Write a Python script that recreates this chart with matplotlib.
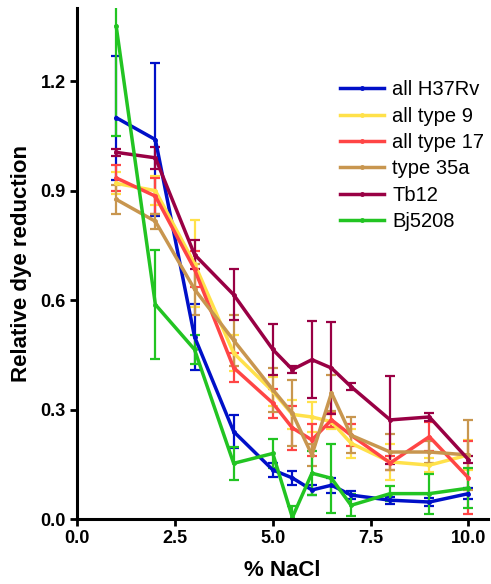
import numpy as np
import matplotlib.pyplot as plt

plt.rcParams['font.family'] = ['Liberation Sans', 'DejaVu Sans']

# % NaCl
nacl = [1, 2, 3, 4, 5, 5.5, 6, 6.5, 7, 8, 9, 10]

h37rv = [1.10, 1.04, 0.50, 0.24, 0.135, 0.113, 0.080, 0.093, 0.066, 0.052, 0.047, 0.070]
h37rv_err = [0.17, 0.21, 0.09, 0.045, 0.02, 0.02, 0.015, 0.02, 0.01, 0.01, 0.01, 0.015]

type9 = [0.92, 0.90, 0.70, 0.455, 0.35, 0.287, 0.280, 0.267, 0.208, 0.157, 0.148, 0.176]
type9_err = [0.03, 0.04, 0.12, 0.05, 0.04, 0.04, 0.04, 0.02, 0.04, 0.05, 0.02, 0.04]

type17 = [0.935, 0.885, 0.685, 0.415, 0.318, 0.25, 0.217, 0.272, 0.23, 0.154, 0.226, 0.113]
type17_err = [0.035, 0.05, 0.05, 0.04, 0.04, 0.06, 0.045, 0.02, 0.03, 0.02, 0.04, 0.10]

type35a = [0.876, 0.816, 0.63, 0.49, 0.355, 0.29, 0.176, 0.346, 0.23, 0.184, 0.184, 0.176]
type35a_err = [0.04, 0.02, 0.07, 0.07, 0.06, 0.09, 0.03, 0.05, 0.05, 0.05, 0.03, 0.095]

tb12 = [1.005, 0.99, 0.725, 0.615, 0.465, 0.41, 0.437, 0.414, 0.363, 0.272, 0.28, 0.163]
tb12_err = [0.01, 0.03, 0.04, 0.07, 0.07, 0.01, 0.105, 0.125, 0.01, 0.12, 0.01, 0.01]

bj5208 = [1.35, 0.588, 0.465, 0.153, 0.18, 0.005, 0.126, 0.112, 0.038, 0.07, 0.07, 0.085]
bj5208_err = [0.30, 0.15, 0.04, 0.045, 0.04, 0.03, 0.06, 0.095, 0.03, 0.02, 0.055, 0.055]

labels = ['all H37Rv', 'all type 9', 'all type 17', 'type 35a', 'Tb12', 'Bj5208']
series = [h37rv, type9, type17, type35a, tb12, bj5208]
errors = [h37rv_err, type9_err, type17_err, type35a_err, tb12_err, bj5208_err]
colors = ['#0010c8', '#ffe14a', '#ff4545', '#c8964f', '#990044', '#22c422']

fig = plt.figure(figsize=(4.91, 5.84), dpi=100)
ax = fig.add_axes([0.157, 0.111, 0.837, 0.875])

for y, e, c, lab in zip(series, errors, colors, labels):
    ax.errorbar(nacl, y, yerr=e, color=c, lw=2.5, marker='o', ms=2.5,
                elinewidth=1.6, capsize=3.5, capthick=1.6, label=lab)

ax.set_xlim(0, 10.5)
ax.set_ylim(0, 1.4)
ax.set_xticks([0, 2.5, 5.0, 7.5, 10.0])
ax.set_yticks([0, 0.3, 0.6, 0.9, 1.2])
ax.set_xticklabels(['0.0', '2.5', '5.0', '7.5', '10.0'])
ax.set_yticklabels(['0.0', '0.3', '0.6', '0.9', '1.2'])
for lbl in ax.get_xticklabels() + ax.get_yticklabels():
    lbl.set_fontweight('bold')
    lbl.set_fontsize(13)

ax.spines['top'].set_visible(False)
ax.spines['right'].set_visible(False)
ax.spines['left'].set_linewidth(2.2)
ax.spines['bottom'].set_linewidth(2.2)
ax.tick_params(width=2, length=5, pad=3)

ax.set_xlabel('% NaCl', fontsize=16, fontweight='bold', labelpad=9)
ax.set_ylabel('Relative dye reduction', fontsize=16, fontweight='bold', labelpad=6)

handles, labs = ax.get_legend_handles_labels()
handles = [h[0] for h in handles]
ax.legend(handles, labs, loc='upper left', bbox_to_anchor=(0.62, 0.875), frameon=False,
          fontsize=14.5, handlelength=2.2, handletextpad=0.4, labelspacing=0.37,
          borderaxespad=0)

fig.savefig('out.png', dpi=100)
